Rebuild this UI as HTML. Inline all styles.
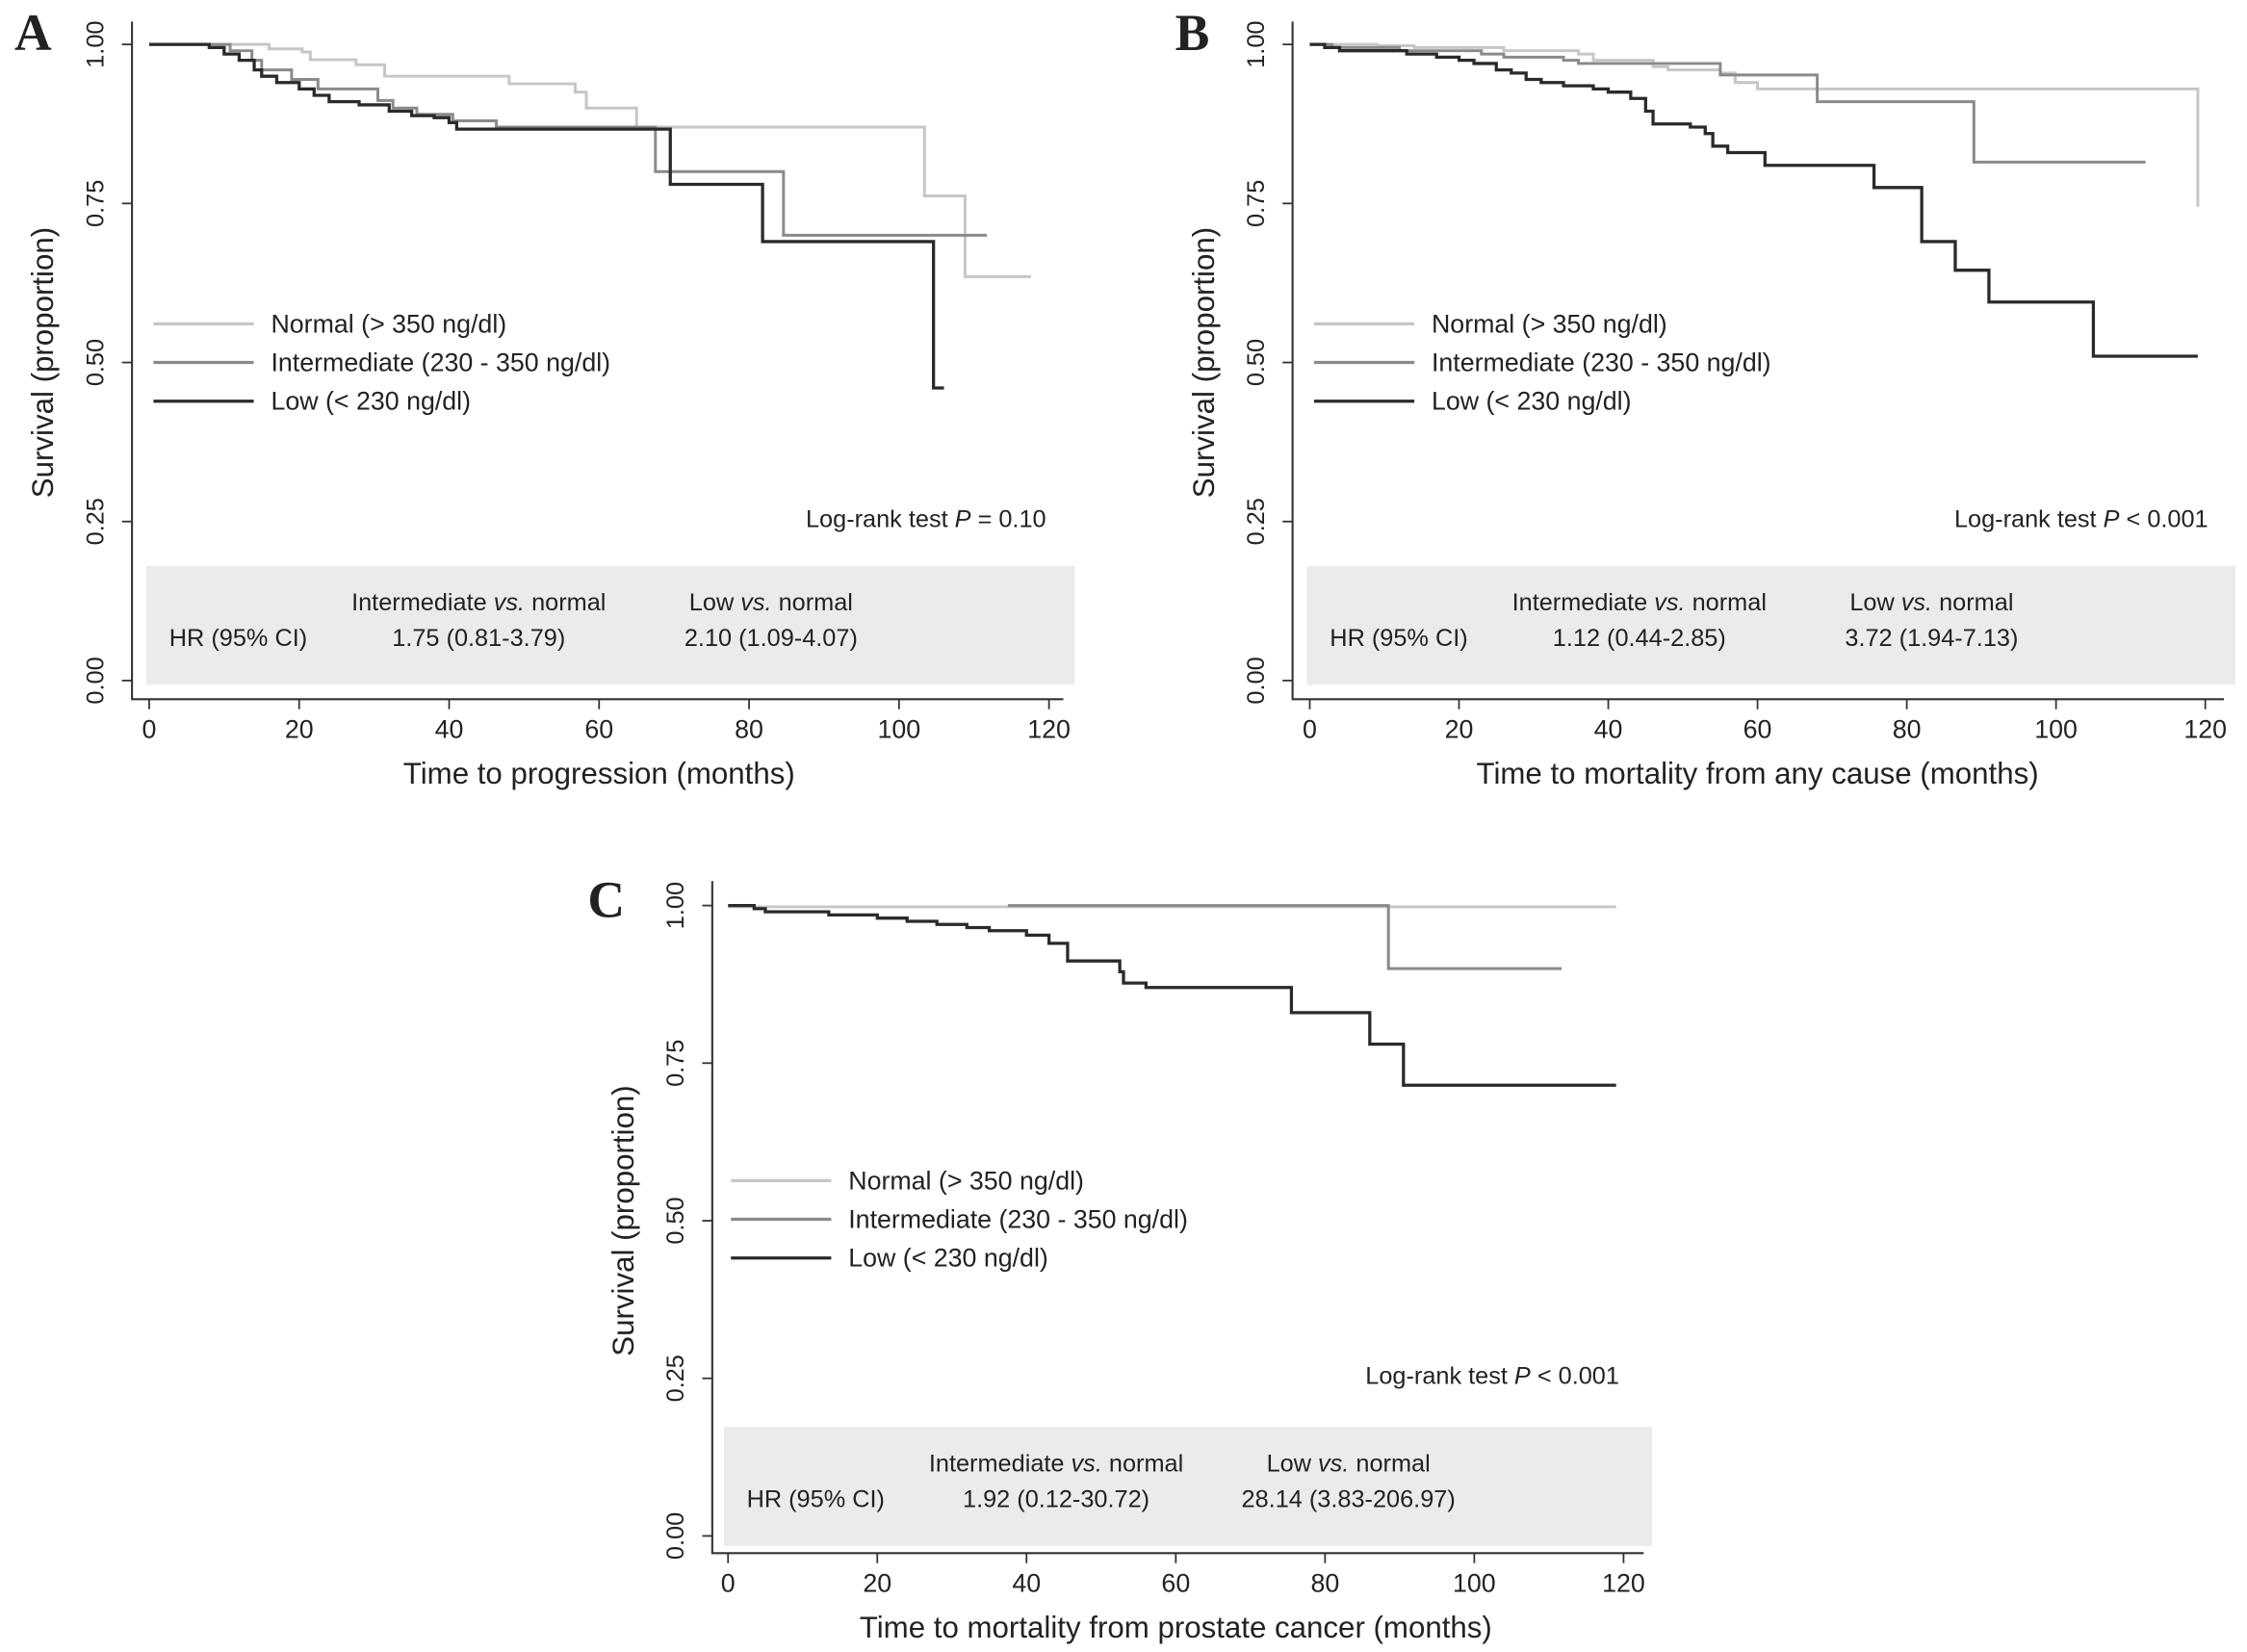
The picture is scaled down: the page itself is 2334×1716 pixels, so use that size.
<!DOCTYPE html>
<html><head><meta charset="utf-8"><title>Kaplan-Meier survival curves</title>
<style>
html,body{margin:0;padding:0;background:#fff;}
svg{display:block;}
text{font-family:"Liberation Sans",sans-serif;fill:#222;}
text.nar{font-family:"Liberation Sans Narrow","Liberation Sans",sans-serif;}
text.serif{font-family:"Liberation Serif",serif;}
</style></head>
<body>
<svg id="fig" width="2334" height="1716" viewBox="0 0 1568 1153" xmlns="http://www.w3.org/2000/svg"></svg>
<script>
// ---------- data ----------
const xTicks = [0, 20, 40, 60, 80, 100, 120];
const yTicks = [0, 0.25, 0.5, 0.75, 1.0];
const yTickLabels = ["0.00", "0.25", "0.50", "0.75", "1.00"];
const seriesNames = ["Normal (> 350 ng/dl)", "Intermediate (230 - 350 ng/dl)", "Low (< 230 ng/dl)"];

// Panel A: time to progression
const aNormalT = [0, 16, 20.4, 21.5, 27.6, 31.4, 48, 56.8, 58.3, 65, 103.4, 108.8, 117.6];
const aNormalS = [1, 0.993, 0.988, 0.976, 0.968, 0.95, 0.938, 0.925, 0.90, 0.87, 0.762, 0.635, 0.635];
const aInterT = [0, 10.8, 13.7, 15, 19, 22.5, 30.5, 32.5, 35.7, 40.5, 46.3, 67.5, 84.6, 111.7];
const aInterS = [1, 0.99, 0.975, 0.96, 0.945, 0.93, 0.912, 0.90, 0.89, 0.88, 0.87, 0.80, 0.70, 0.70];
const aLowT = [0, 8, 10, 12, 14, 15, 17, 20, 22, 24, 28, 32, 35, 38, 40, 41, 69.5, 81.8, 104.6, 106];
const aLowS = [1, 0.995, 0.985, 0.975, 0.96, 0.95, 0.94, 0.93, 0.92, 0.91, 0.905, 0.895, 0.888, 0.885, 0.877, 0.867, 0.78, 0.69, 0.46, 0.46];

// Panel B: mortality from any cause
const bNormalT = [0, 9, 14, 26, 36, 38, 46, 48, 55, 57, 60, 119, 119];
const bNormalS = [1, 0.998, 0.995, 0.99, 0.985, 0.975, 0.965, 0.96, 0.955, 0.94, 0.93, 0.745, 0.745];
const bInterT = [0, 3, 12, 23, 26, 34, 36, 55, 68, 89, 112];
const bInterS = [1, 0.995, 0.99, 0.985, 0.98, 0.975, 0.97, 0.952, 0.91, 0.815, 0.815];
const bLowT = [0, 2, 4, 13, 17, 20, 22, 25, 27, 29, 31, 34, 38, 40, 43, 45, 46, 51, 53, 54, 56, 61, 75.6, 82, 86.5, 91, 105, 119];
const bLowS = [1, 0.995, 0.99, 0.985, 0.98, 0.975, 0.97, 0.96, 0.955, 0.945, 0.94, 0.935, 0.93, 0.925, 0.915, 0.895, 0.875, 0.87, 0.86, 0.84, 0.83, 0.81, 0.775, 0.69, 0.645, 0.595, 0.51, 0.51];

// Panel C: mortality from prostate cancer
const cNormalT = [0, 119];
const cNormalS = [0.998, 0.998];
const cInterT = [37.5, 88.5, 111.7];
const cInterS = [1.0, 0.90, 0.90];
const cLowT = [0, 3.5, 5, 13.5, 20, 24, 28, 32, 35, 40, 43, 45.5, 52.5, 53, 56, 75.5, 86, 90.5, 119];
const cLowS = [1, 0.995, 0.99, 0.985, 0.98, 0.975, 0.97, 0.965, 0.96, 0.953, 0.94, 0.912, 0.895, 0.877, 0.87, 0.83, 0.78, 0.715, 0.715];

const aHR = ["1.75 (0.81-3.79)", "2.10 (1.09-4.07)"];
const bHR = ["1.12 (0.44-2.85)", "3.72 (1.94-7.13)"];
const cHR = ["1.92 (0.12-30.72)", "28.14 (3.83-206.97)"];

// ---------- drawing ----------
const NS = "http://www.w3.org/2000/svg";
const svg = document.getElementById("fig");
function mk(tag, attrs, parent) {
  const e = document.createElementNS(NS, tag);
  for (const k in attrs) e.setAttribute(k, attrs[k]);
  (parent || svg).appendChild(e);
  return e;
}
const colors = ["#c6c6c6", "#8a8a8a", "#2a2a2a"];

function panel(p) {
  const g = mk("g", {});
  
  
  const xs = v => p.x0 + (p.x120 - p.x0) * v / 120;
  const ys = v => p.y0 + (p.y1 - p.y0) * v;

  const box = mk("rect", {x: p.boxX, y: p.boxY, width: 648, height: 83, fill: "#ebebeb"}, g);
  
  

  const ax = mk("path", {d: `M${p.axX},${p.axTop} V${p.axBot} H${p.axX + 650}`, stroke: "#333", "stroke-width": 1.4, fill: "none"}, g);
  
  

  yTicks.forEach((v, i) => {
    const y = ys(v);
    const t = mk("line", {x1: p.axX - 7, x2: p.axX, y1: y, y2: y, stroke: "#333", "stroke-width": 1.2}, g);
    
    
    const lb = mk("text", {x: 0, y: 0, "font-size": 17, "text-anchor": "middle", fill: "#333",
      transform: `translate(${p.axX - 20},${y}) rotate(-90)`}, g);
    lb.textContent = yTickLabels[i];
    
    
  });
  xTicks.forEach(v => {
    const x = xs(v);
    const t = mk("line", {x1: x, x2: x, y1: p.axBot, y2: p.axBot + 7, stroke: "#333", "stroke-width": 1.2}, g);
    
    
    const lb = mk("text", {x: x, y: p.axBot + 27, "font-size": 18, "text-anchor": "middle", fill: "#333"}, g);
    lb.textContent = v;
    
    
  });

  const xt = mk("text", {x: (p.x0 + p.x120) / 2, y: p.axBot + 59, "font-size": 21, "text-anchor": "middle"}, g);
  xt.textContent = p.xTitle;
  
  
  const yt = mk("text", {x: 0, y: 0, "font-size": 21, "text-anchor": "middle",
    transform: `translate(${p.axX - 55},${(p.y0 + p.y1) / 2}) rotate(-90)`}, g);
  yt.textContent = "Survival (proportion)";
  
  

  const pl = mk("text", {x: p.lblX, y: p.lblY, "font-size": 36, "font-weight": "bold", "class": "serif", fill: "#111"}, g);
  pl.textContent = p.id;
  
  

  const names = ['normal-curve', 'intermediate-curve', 'low-curve'];
  [p.s[0], p.s[1], p.s[2]].forEach((s, k) => {
    const T = s[0], S = s[1];
    let d = `M${xs(T[0]).toFixed(1)},${ys(S[0]).toFixed(1)}`;
    for (let i = 1; i < T.length; i++) {
      d += ` H${xs(T[i]).toFixed(1)} V${ys(S[i]).toFixed(1)}`;
    }
    const c = mk("path", {d: d, stroke: colors[k], "stroke-width": k === 2 ? 2.2 : 2, fill: "none"}, g);
    
    
  });

  seriesNames.forEach((n, k) => {
    const y = p.legY + k * 27;
    const l = mk("line", {x1: p.legX, x2: p.legX + 70, y1: y, y2: y, stroke: colors[k], "stroke-width": 2.2}, g);
    
    
    const t = mk("text", {x: p.legX + 82, y: y + 6, "font-size": 18, fill: "#222"}, g);
    t.textContent = n;
    
    
  });

  const lr = mk("text", {x: p.lrX, y: p.lrY, "font-size": 17, "text-anchor": "end", "class": "nar"}, g);
  lr.innerHTML = 'Log-rank test <tspan font-style="italic">P</tspan> ' + p.lrP;
  
  

  const bx = p.boxX, by = p.boxY;
  const rows = [
    [bx + 16, by + 56, "start", "HR (95% CI)", 'hr-row-label'],
    [bx + 232, by + 31, "middle", 'Intermediate <tspan font-style="italic">vs.</tspan> normal', 'hr-col-intermediate'],
    [bx + 436, by + 31, "middle", 'Low <tspan font-style="italic">vs.</tspan> normal', 'hr-col-low'],
    [bx + 232, by + 56, "middle", p.hr[0], 'hr-value-intermediate'],
    [bx + 436, by + 56, "middle", p.hr[1], 'hr-value-low']
  ];
  rows.forEach(r => {
    const t = mk("text", {x: r[0], y: r[1], "font-size": 17, "text-anchor": r[2], "class": "nar", fill: "#333"}, g);
    t.innerHTML = r[3];
    
    
  });
}

panel({id: "A", x0: 104, x120: 732, y1: 31, y0: 475, axX: 92, axTop: 15, axBot: 488,
  boxX: 102, boxY: 395, legX: 107, legY: 226, lrX: 730, lrY: 368, lrP: "= 0.10",
  lblX: 10, lblY: 35, xTitle: "Time to progression (months)", hr: aHR,
  s: [[aNormalT, aNormalS], [aInterT, aInterS], [aLowT, aLowS]]});
panel({id: "B", x0: 914, x120: 1539, y1: 31, y0: 475, axX: 902, axTop: 15, axBot: 488,
  boxX: 912, boxY: 395, legX: 917, legY: 226, lrX: 1541, lrY: 368, lrP: "&lt; 0.001",
  lblX: 820, lblY: 35, xTitle: "Time to mortality from any cause (months)", hr: bHR,
  s: [[bNormalT, bNormalS], [bInterT, bInterS], [bLowT, bLowS]]});
panel({id: "C", x0: 508, x120: 1133, y1: 632, y0: 1072, axX: 497, axTop: 615, axBot: 1084,
  boxX: 505, boxY: 996, legX: 510, legY: 824, lrX: 1130, lrY: 966, lrP: "&lt; 0.001",
  lblX: 410, lblY: 640, xTitle: "Time to mortality from prostate cancer (months)", hr: cHR,
  s: [[cNormalT, cNormalS], [cInterT, cInterS], [cLowT, cLowS]]});
</script>
</body></html>
